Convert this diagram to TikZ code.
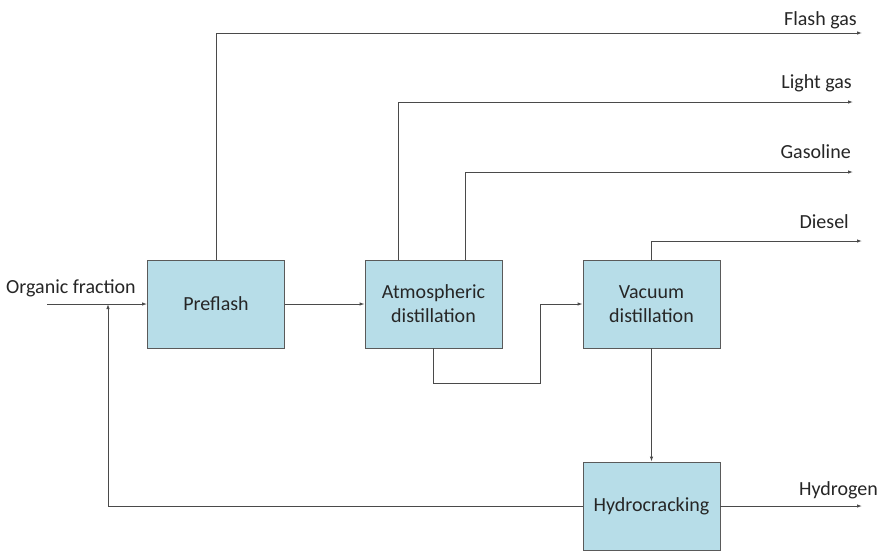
\documentclass[tikz,border=0pt]{standalone}
\usepackage{fontspec}
\setmainfont{Carlito}
\usetikzlibrary{arrows.meta}
\definecolor{boxfill}{HTML}{B7DDE8}
\definecolor{boxline}{HTML}{5A5A5A}
\definecolor{flow}{HTML}{4A4A4A}
\definecolor{ink}{HTML}{262626}
\begin{document}
\begin{tikzpicture}[x=1pt,y=-1pt,
  unit/.style={draw=boxline,fill=boxfill,line width=0.9pt,minimum width=137pt,minimum height=88pt,
    align=center,font=\fontsize{20}{24}\selectfont,text=ink,inner sep=0pt},
  stream/.style={draw=flow,line width=0.9pt,-{Latex[length=5pt,width=3.5pt]}},
  tag/.style={font=\fontsize{20}{24}\selectfont,text=ink,inner sep=0pt}]
\useasboundingbox (0,0) rectangle (885,554);
\fill[white] (0,0) rectangle (885,554);

% process units
\node[unit] (pre) at (216,304) {Preflash};
\node[unit] (atm) at (433.5,304) {Atmospheric\\distillation};
\node[unit] (vac) at (651.5,304) {Vacuum\\distillation};
\node[unit] (hyd) at (651.5,506) {Hydrocracking};

% stream end points
\coordinate (feed) at (47,304);
\coordinate (mix) at (108,304);
\coordinate (flashEnd) at (862,33);
\coordinate (lightEnd) at (853,102);
\coordinate (gasoEnd) at (853,172);
\coordinate (dieselEnd) at (862,241);
\coordinate (h2End) at (862,506);

% feed and recycle
\draw[stream] (feed) -- (pre.west);
\draw[stream] (hyd.west) -| (mix);
\node[tag,anchor=base west] (feedlbl) at (6,293) {Organic fraction};

% main train
\draw[stream] (pre.east) -- (atm.west);
\draw[stream] (atm.south) |- (540,383) |- (vac.west);
\draw[stream] (vac.south) -- (hyd.north);

% overhead products
\draw[stream] (pre.north) |- (flashEnd);
\draw[stream] (atm.north -| 398,0) |- (lightEnd);
\draw[stream] (atm.north -| 465,0) |- (gasoEnd);
\draw[stream] (vac.north) |- (dieselEnd);
\draw[stream] (hyd.east) -- (h2End);

% product labels
\node[tag,anchor=base east] (flashlbl) at (857,25) {Flash gas};
\node[tag,anchor=base east] (lightlbl) at (852,88) {Light gas};
\node[tag,anchor=base east] (gasolbl) at (851,158) {Gasoline};
\node[tag,anchor=base east] (diesellbl) at (849,228) {Diesel};
\node[tag,anchor=base east] (h2lbl) at (878,495) {Hydrogen};
\end{tikzpicture}
\end{document}
